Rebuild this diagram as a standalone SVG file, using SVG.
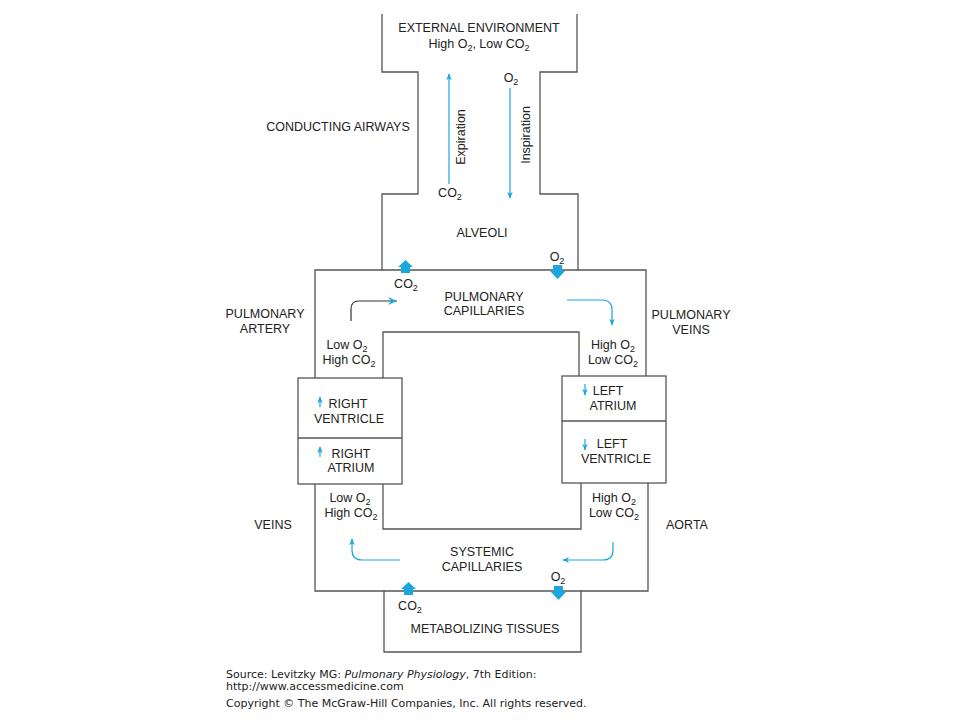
<svg xmlns="http://www.w3.org/2000/svg" width="960" height="720" viewBox="0 0 960 720">
<defs>
<style>
.ln{fill:none;stroke:#555;stroke-width:1.3}
.bx{fill:#fff;stroke:#555;stroke-width:1.3}
.t{font-family:"Liberation Sans",Arial,sans-serif;font-size:12.5px;fill:#222;text-anchor:middle}
.f{font-family:"DejaVu Sans",Verdana,sans-serif;font-size:11px;fill:#222}
.s{font-size:9px}
.bl{fill:none;stroke:#1aa7e0;stroke-width:1.2}
.dk{fill:none;stroke:#333;stroke-width:1.2}
.ba{fill:#1aa7e0}
</style>
<marker id="ah" viewBox="0 0 10 10" refX="9" refY="5" markerWidth="7" markerHeight="7" orient="auto" markerUnits="userSpaceOnUse">
<path d="M0,1 L10,5 L0,9 L3,5 z" fill="#1aa7e0"/>
</marker>
</defs>
<rect width="960" height="720" fill="#fff"/>
<g id="outline">
<path class="ln" d="M382,14 V72 H418 V194 H382 V270 H315 V378 M315,484 V591 H384 V652 H581 V591 H648 V483 M646,376 V270 H578 V194 H540 V72 H577 V14"/>
<path class="ln" d="M382,270 H578 M384,591 H581"/>
<path class="ln" d="M383,378 V332 H579 V376 M581,483 V529 H383 V484"/>
</g>
<g id="right-heart">
<rect class="bx" x="298" y="378" width="104" height="106"/>
<line class="ln" x1="298" y1="438" x2="402" y2="438"/>
</g>
<g id="left-heart">
<rect class="bx" x="562" y="376" width="104" height="107"/>
<line class="ln" x1="562" y1="421" x2="666" y2="421"/>
</g>
<g id="connectors">
<line class="bl" x1="449" y1="184" x2="449" y2="74" marker-end="url(#ah)"/>
<line class="bl" x1="510" y1="88" x2="510" y2="198" marker-end="url(#ah)"/>
<path class="dk" d="M351,321 V309 Q351,301 359,301 H397"/>
<path d="M388,297 L397,301 L388,305 L391,301 z" fill="#1aa7e0"/>
<path class="bl" d="M567,300 H602 Q612,300 612,310 V325" marker-end="url(#ah)"/>
<path class="bl" d="M400,560 H362 Q352,560 352,550 V539" marker-end="url(#ah)"/>
<path class="bl" d="M613,542 V550 Q613,560 603,560 H563" marker-end="url(#ah)"/>
<line class="bl" x1="320" y1="407" x2="320" y2="397" marker-end="url(#ah)"/>
<line class="bl" x1="320" y1="457" x2="320" y2="447" marker-end="url(#ah)"/>
<line class="bl" x1="585" y1="384" x2="585" y2="395" marker-end="url(#ah)"/>
<line class="bl" x1="585" y1="439" x2="585" y2="450" marker-end="url(#ah)"/>
<path class="ba" d="M553,265 h9 v6 h3 l-7.5,8 l-7.5,-8 h3 z"/>
<path class="ba" d="M401,273 h9 v-6 h3 l-7.5,-7 l-7.5,7 h3 z"/>
<path class="ba" d="M554,586 h9 v6 h3 l-7.5,8 l-7.5,-8 h3 z"/>
<path class="ba" d="M404,595 h9 v-6 h3 l-7.5,-7 l-7.5,7 h3 z"/>
</g>
<g id="labels">
<text class="t" x="479" y="32">EXTERNAL ENVIRONMENT</text>
<text class="t" x="479" y="48">High O<tspan class="s" dy="3">2</tspan><tspan dy="-3">, Low CO</tspan><tspan class="s" dy="3">2</tspan></text>
<text class="t" x="338" y="131">CONDUCTING AIRWAYS</text>
<text class="t" x="450" y="197">CO<tspan class="s" dy="3">2</tspan></text>
<text class="t" x="511" y="82">O<tspan class="s" dy="3">2</tspan></text>
<text class="t" transform="translate(465,137) rotate(-90)">Expiration</text>
<text class="t" transform="translate(530,135) rotate(-90)">Inspiration</text>
<text class="t" x="482" y="237">ALVEOLI</text>
<text class="t" x="557" y="261">O<tspan class="s" dy="3">2</tspan></text>
<text class="t" x="406" y="288">CO<tspan class="s" dy="3">2</tspan></text>
<text class="t" x="484" y="301">PULMONARY</text>
<text class="t" x="484" y="315">CAPILLARIES</text>
<text class="t" x="265" y="318">PULMONARY</text>
<text class="t" x="265" y="333">ARTERY</text>
<text class="t" x="691" y="319">PULMONARY</text>
<text class="t" x="691" y="334">VEINS</text>
<text class="t" x="347" y="349">Low O<tspan class="s" dy="3">2</tspan></text>
<text class="t" x="349" y="364">High CO<tspan class="s" dy="3">2</tspan></text>
<text class="t" x="613" y="349">High O<tspan class="s" dy="3">2</tspan></text>
<text class="t" x="613" y="364">Low CO<tspan class="s" dy="3">2</tspan></text>
<text class="t" x="348" y="408">RIGHT</text>
<text class="t" x="349" y="423">VENTRICLE</text>
<text class="t" x="351" y="458">RIGHT</text>
<text class="t" x="351" y="472">ATRIUM</text>
<text class="t" x="608" y="395">LEFT</text>
<text class="t" x="613" y="410">ATRIUM</text>
<text class="t" x="612" y="448">LEFT</text>
<text class="t" x="616" y="463">VENTRICLE</text>
<text class="t" x="350" y="502">Low O<tspan class="s" dy="3">2</tspan></text>
<text class="t" x="351" y="517">High CO<tspan class="s" dy="3">2</tspan></text>
<text class="t" x="614" y="502">High O<tspan class="s" dy="3">2</tspan></text>
<text class="t" x="614" y="517">Low CO<tspan class="s" dy="3">2</tspan></text>
<text class="t" x="273" y="529">VEINS</text>
<text class="t" x="687" y="529">AORTA</text>
<text class="t" x="482" y="556">SYSTEMIC</text>
<text class="t" x="482" y="571">CAPILLARIES</text>
<text class="t" x="558" y="581">O<tspan class="s" dy="3">2</tspan></text>
<text class="t" x="410" y="610">CO<tspan class="s" dy="3">2</tspan></text>
<text class="t" x="485" y="633">METABOLIZING TISSUES</text>
</g>
<g id="footer">
<text class="f" x="226" y="678">Source: Levitzky MG: <tspan font-style="italic">Pulmonary Physiology</tspan>, 7th Edition:</text>
<text class="f" x="226" y="690">http://www.accessmedicine.com</text>
<text class="f" x="226" y="707">Copyright © The McGraw-Hill Companies, Inc. All rights reserved.</text>
</g>
</svg>
